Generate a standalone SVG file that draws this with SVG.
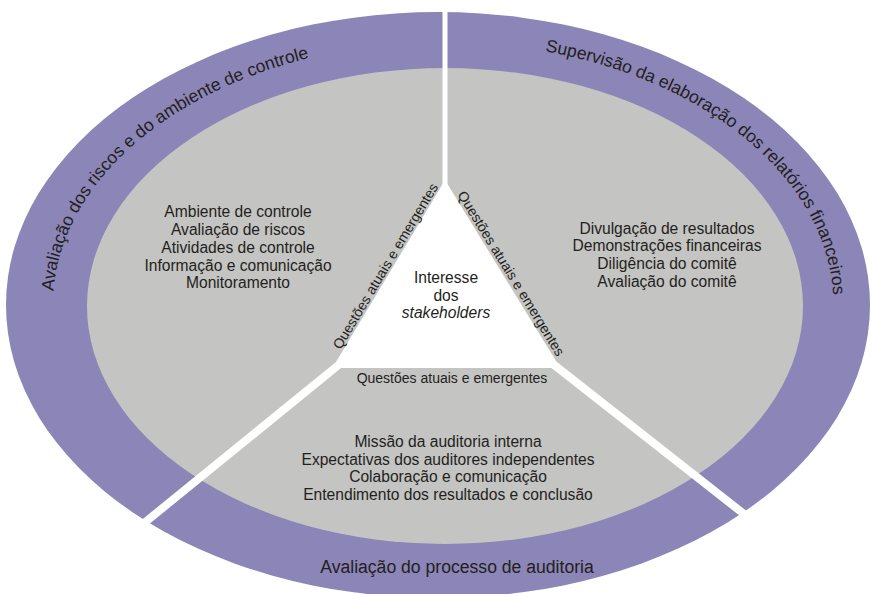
<svg xmlns="http://www.w3.org/2000/svg" width="872" height="594" viewBox="0 0 872 594">
  <style>
    text { font-family: "Liberation Sans", Arial, sans-serif; fill: #231f20; }
    .ring { fill: #8c85b7; }
    .core { fill: #c4c4c2; }
    .gap { fill: #ffffff; }
    .spoke { stroke: #ffffff; fill: none; stroke-linecap: butt; }
    .band { font-size: 17.6px; }
    .item { font-size: 15.6px; text-anchor: middle; }
    .edge { font-size: 14px; text-anchor: middle; }
  </style>
  <defs>
    <!-- baseline arcs for the ring labels (clockwise) -->
    <path id="arcLeft" d="M53.5,291.2 A390,263 0 0 1 375,46"/>
    <path id="arcRight" d="M545,51.2 A390,263 0 0 1 832,328"/>
  </defs>

  <rect width="872" height="594" fill="#ffffff"/>

  <!-- outer ring and inner disc -->
  <g id="ring">
    <ellipse class="ring" cx="438" cy="305" rx="432" ry="293"/>
    <ellipse class="core" cx="445" cy="306" rx="358" ry="238"/>
  </g>

  <!-- white dividers between the three sectors -->
  <g id="connectors">
    <polygon class="gap" points="336,362 445,180 556,361 551,368 341,368"/>
    <line class="spoke" x1="445" y1="0" x2="445" y2="186" stroke-width="5"/>
    <line class="spoke" x1="341.6" y1="362.5" x2="95" y2="563" stroke-width="8"/>
    <line class="spoke" x1="550.4" y1="362" x2="800" y2="558" stroke-width="8"/>
  </g>

  <g id="risk-ring-label">
    <text class="band" font-size="18.1"><textPath href="#arcLeft">Avaliação dos riscos e do ambiente de controle</textPath></text>
  </g>

  <g id="reporting-ring-label">
    <text class="band" font-size="17.9"><textPath href="#arcRight">Supervisão da elaboração dos relatórios financeiros</textPath></text>
  </g>

  <g id="audit-ring-label">
    <text class="band" x="457" y="573" text-anchor="middle">Avaliação do processo de auditoria</text>
  </g>

  <g id="risk-sector">
    <text class="item" x="238" y="217">Ambiente de controle</text>
    <text class="item" x="238" y="235">Avaliação de riscos</text>
    <text class="item" x="238" y="252.8">Atividades de controle</text>
    <text class="item" x="238" y="270.6">Informação e comunicação</text>
    <text class="item" x="238" y="288.4">Monitoramento</text>
    <text class="edge" transform="translate(389.5,268.6) rotate(-59)">Questões atuais e emergentes</text>
  </g>

  <g id="reporting-sector">
    <text class="item" x="667" y="233.5">Divulgação de resultados</text>
    <text class="item" x="667" y="251.3">Demonstrações financeiras</text>
    <text class="item" x="667" y="269">Diligência do comitê</text>
    <text class="item" x="667" y="286.8">Avaliação do comitê</text>
    <text class="edge" transform="translate(507,276) rotate(58.4)">Questões atuais e emergentes</text>
  </g>

  <g id="audit-sector">
    <text class="edge" x="452" y="383">Questões atuais e emergentes</text>
    <text class="item" x="448" y="446.7">Missão da auditoria interna</text>
    <text class="item" x="448" y="464.5">Expectativas dos auditores independentes</text>
    <text class="item" x="448" y="482.3">Colaboração e comunicação</text>
    <text class="item" x="448" y="500.1">Entendimento dos resultados e conclusão</text>
  </g>

  <g id="stakeholders">
    <text class="item" x="446" y="283">Interesse</text>
    <text class="item" x="446" y="300.5">dos</text>
    <text class="item" x="446" y="318" font-style="italic">stakeholders</text>
  </g>
</svg>
